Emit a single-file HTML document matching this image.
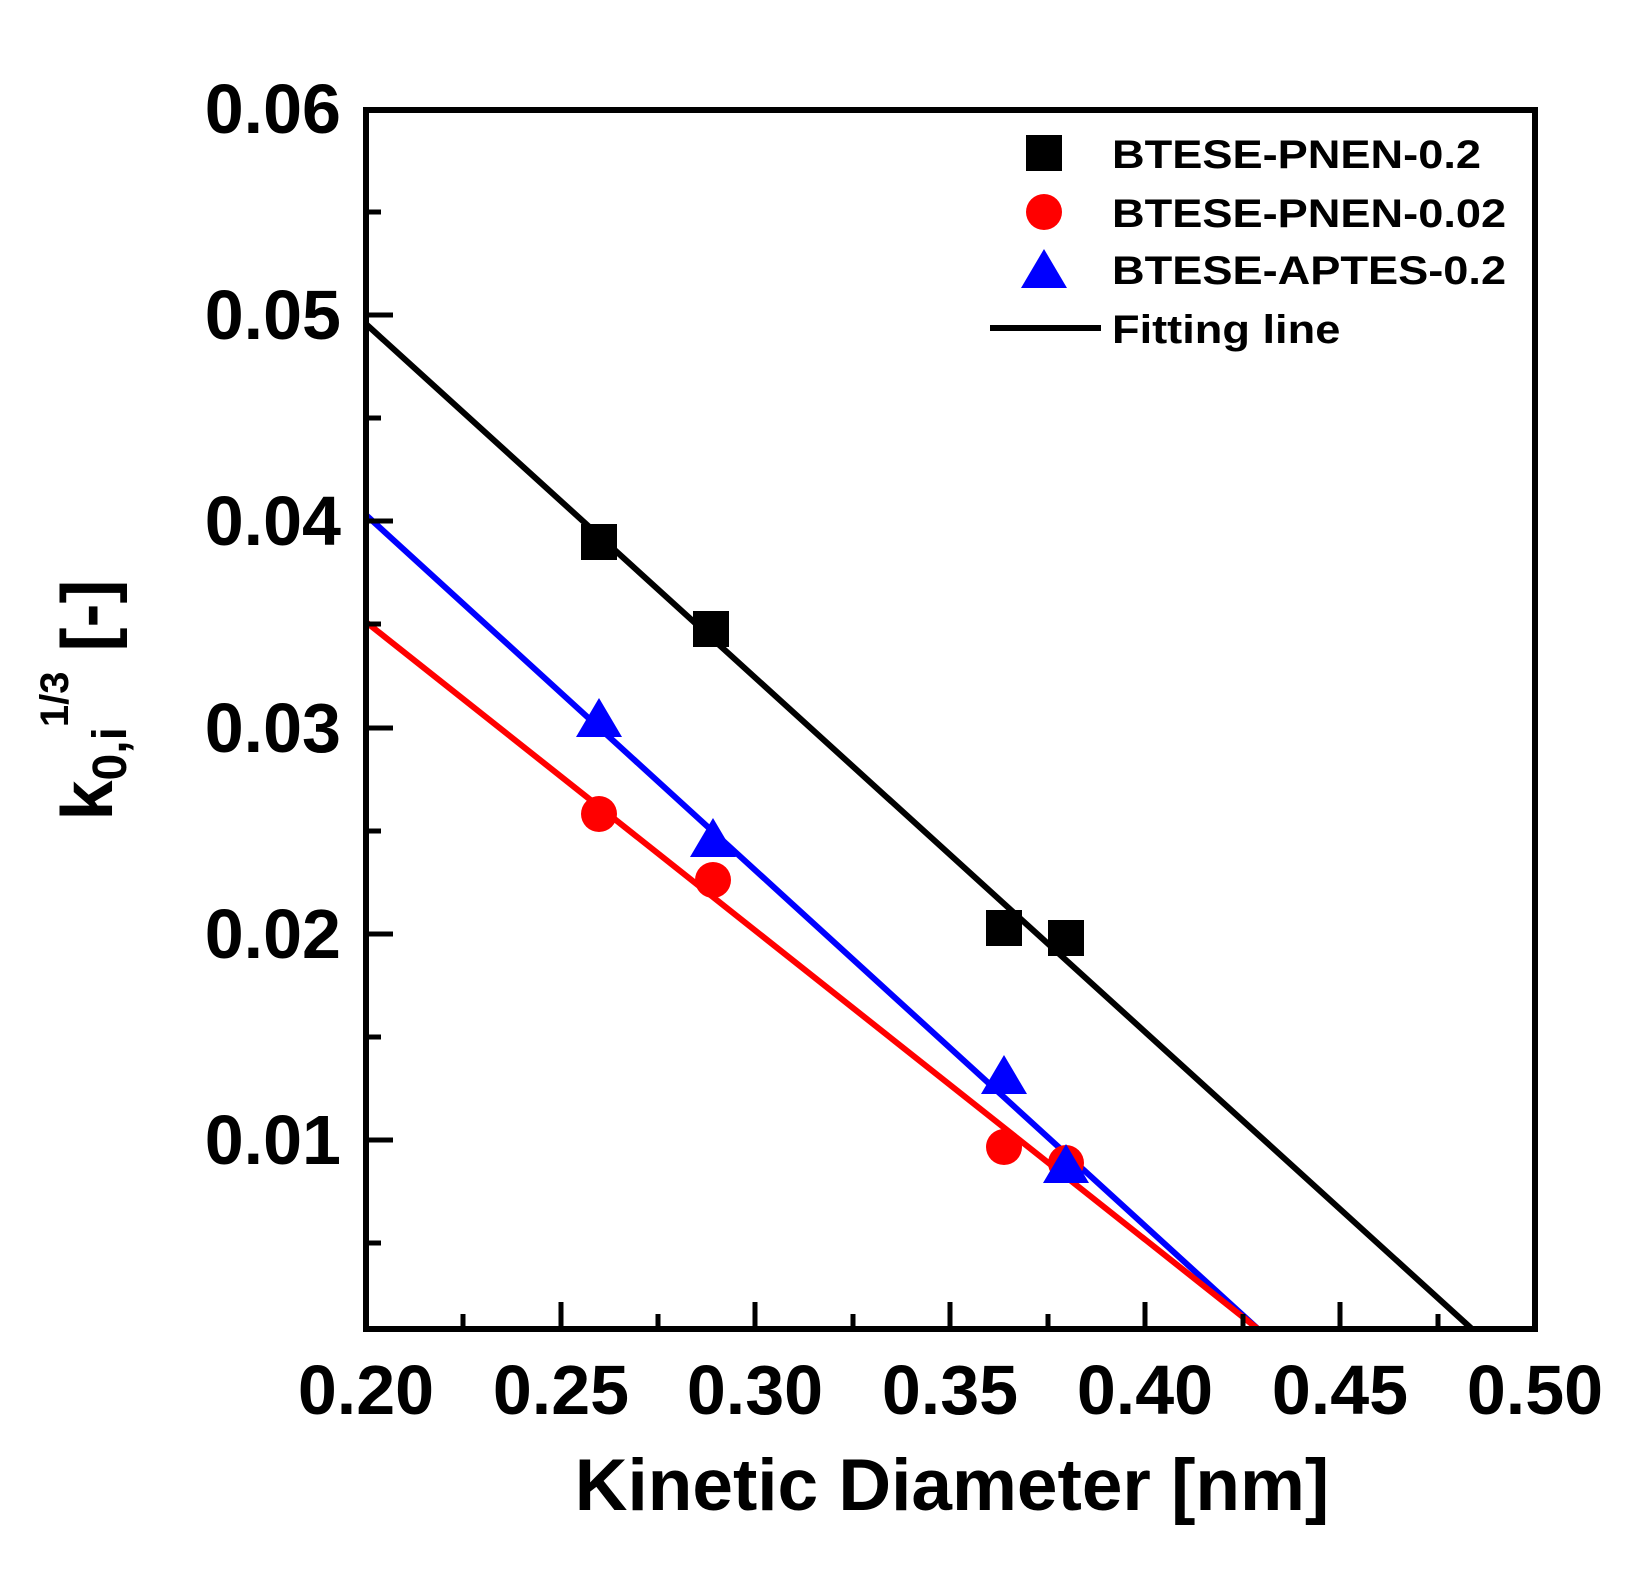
<!DOCTYPE html>
<html><head><style>
body{margin:0;background:#fff;}
text{font-family:"Liberation Sans",Arial,sans-serif;font-weight:bold;}
</style></head><body>
<svg width="1637" height="1571" viewBox="0 0 1637 1571" xmlns="http://www.w3.org/2000/svg">
<rect width="1637" height="1571" fill="#fff"/>
<line x1="366" y1="324" x2="1472" y2="1329" stroke="#000" stroke-width="6"/>
<line x1="366" y1="515" x2="1258" y2="1329" stroke="#0000ff" stroke-width="6"/>
<line x1="366" y1="622" x2="1258" y2="1329" stroke="#ff0000" stroke-width="6"/>
<rect x="366" y="110" width="1169" height="1219" fill="none" stroke="#000" stroke-width="6"/>
<g stroke="#000" stroke-width="5">
<line x1="561" y1="1329" x2="561" y2="1302"/><line x1="755" y1="1329" x2="755" y2="1302"/><line x1="950" y1="1329" x2="950" y2="1302"/><line x1="1145" y1="1329" x2="1145" y2="1302"/><line x1="1340" y1="1329" x2="1340" y2="1302"/>
<line x1="463" y1="1329" x2="463" y2="1314"/><line x1="658" y1="1329" x2="658" y2="1314"/><line x1="853" y1="1329" x2="853" y2="1314"/><line x1="1048" y1="1329" x2="1048" y2="1314"/><line x1="1243" y1="1329" x2="1243" y2="1314"/><line x1="1438" y1="1329" x2="1438" y2="1314"/>
<line x1="366" y1="315" x2="393" y2="315"/><line x1="366" y1="521" x2="393" y2="521"/><line x1="366" y1="728" x2="393" y2="728"/><line x1="366" y1="934" x2="393" y2="934"/><line x1="366" y1="1140" x2="393" y2="1140"/>
<line x1="366" y1="212" x2="381" y2="212"/><line x1="366" y1="418" x2="381" y2="418"/><line x1="366" y1="624" x2="381" y2="624"/><line x1="366" y1="831" x2="381" y2="831"/><line x1="366" y1="1037" x2="381" y2="1037"/><line x1="366" y1="1243" x2="381" y2="1243"/>
</g>
<g fill="#000">
<rect x="581" y="524" width="36" height="36"/><rect x="693" y="611" width="36" height="36"/><rect x="986" y="910" width="36" height="36"/><rect x="1048" y="920" width="36" height="36"/>
</g>
<g fill="#ff0000">
<circle cx="599" cy="814" r="18"/><circle cx="713" cy="880" r="18"/><circle cx="1004" cy="1147" r="18"/><circle cx="1066" cy="1163" r="18"/>
</g>
<g fill="#0000ff">
<polygon points="599,698 622,737 576,737"/><polygon points="713,818 736,857 690,857"/><polygon points="1004,1055 1027,1094 981,1094"/><polygon points="1066,1144 1089,1183 1043,1183"/>
</g>
<g font-size="70" text-anchor="middle">
<text x="366" y="1414">0.20</text><text x="561" y="1414">0.25</text><text x="755" y="1414">0.30</text><text x="950" y="1414">0.35</text><text x="1145" y="1414">0.40</text><text x="1340" y="1414">0.45</text><text x="1535" y="1414">0.50</text>
</g>
<g font-size="70" text-anchor="end">
<text x="341" y="133">0.06</text><text x="341" y="339">0.05</text><text x="341" y="545">0.04</text><text x="341" y="752">0.03</text><text x="341" y="958">0.02</text><text x="341" y="1164">0.01</text>
</g>
<text x="952" y="1510" font-size="73" text-anchor="middle">Kinetic Diameter [nm]</text>
<g transform="translate(112,700) rotate(-90)">
<text x="0" y="0" font-size="72" text-anchor="middle">k<tspan font-size="48" dy="14">0,i</tspan><tspan font-size="40" dy="-58">1/3</tspan><tspan dy="44"> [-]</tspan></text>
</g>
<rect x="1026" y="135" width="36" height="36" fill="#000"/>
<circle cx="1044" cy="212" r="18" fill="#ff0000"/>
<polygon points="1044,249 1067,288 1021,288" fill="#0000ff"/>
<line x1="990" y1="328" x2="1101" y2="328" stroke="#000" stroke-width="6"/>
<g font-size="40" transform="translate(1112,0) scale(1.13,1) translate(-1112,0)">
<text x="1112" y="168">BTESE-PNEN-0.2</text>
<text x="1112" y="227">BTESE-PNEN-0.02</text>
<text x="1112" y="284">BTESE-APTES-0.2</text>
<text x="1112" y="343">Fitting line</text>
</g>
</svg>
</body></html>
